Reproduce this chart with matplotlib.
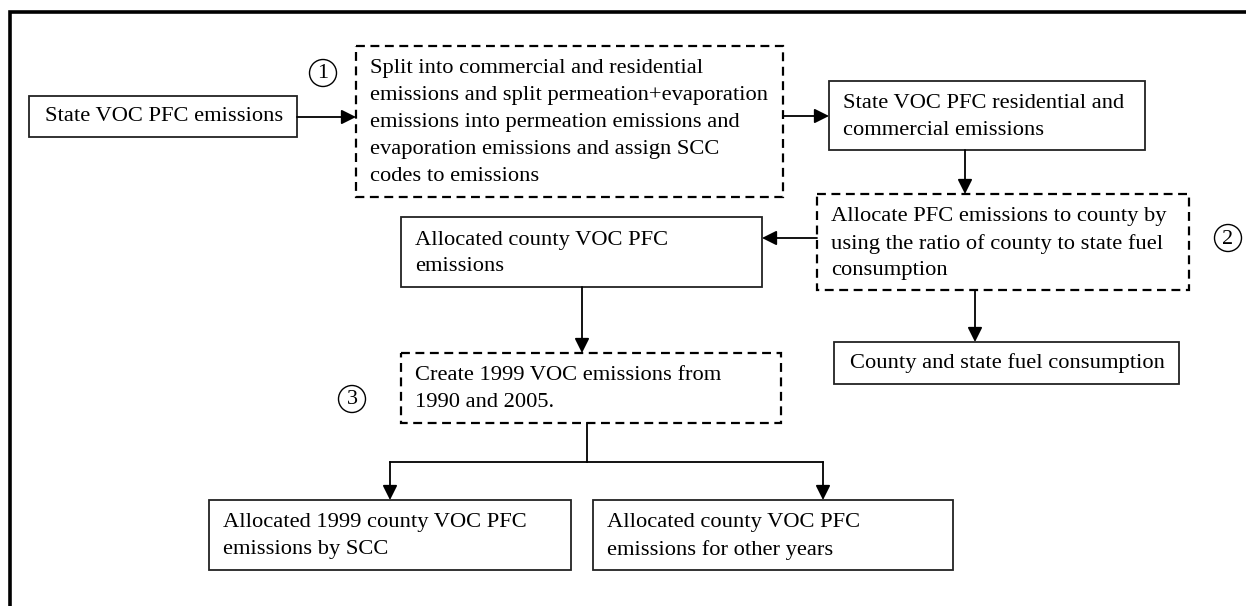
import matplotlib
matplotlib.use("Agg")
import matplotlib.pyplot as plt
from matplotlib.patches import Rectangle, Circle

plt.rcParams['font.family'] = ['Liberation Serif', 'DejaVu Serif']

# box texts (one list of lines per box)
txt_state = ["State VOC PFC emissions"]
txt_split = ["Split into commercial and residential",
             "emissions and split permeation+evaporation",
             "emissions into permeation emissions and",
             "evaporation emissions and assign SCC",
             "codes to emissions"]
txt_res = ["State VOC PFC residential and", "commercial emissions"]
txt_alloc_step = ["Allocate PFC emissions to county by",
                  "using the ratio of county to state fuel",
                  "consumption"]
txt_alloc = ["Allocated county VOC PFC", "emissions"]
txt_fuel = ["County and state fuel consumption"]
txt_create = ["Create 1999 VOC emissions from", "1990 and 2005."]
txt_1999 = ["Allocated 1999 county VOC PFC", "emissions by SCC"]
txt_other = ["Allocated county VOC PFC", "emissions for other years"]
step_labels = ["1", "2", "3"]

# layout in pixels (x0, y0, x1, y1), y downwards
boxes = [
    (txt_state, (29, 96, 297, 137), False),
    (txt_split, (356, 46, 783, 197), True),
    (txt_res, (829, 81, 1145, 150), False),
    (txt_alloc_step, (817, 194, 1189, 290), True),
    (txt_alloc, (401, 217, 762, 287), False),
    (txt_fuel, (834, 342, 1179, 384), False),
    (txt_create, (401, 353, 781, 423), True),
    (txt_1999, (209, 500, 571, 570), False),
    (txt_other, (593, 500, 953, 570), False),
]
circle_pos = [(323, 73), (1228, 238), (352, 399)]
arrows = [((297, 117), (356, 117)),
          ((783, 116), (829, 116)),
          ((965, 150), (965, 194)),
          ((817, 238), (762, 238)),
          ((975, 290), (975, 342)),
          ((582, 287), (582, 353)),
          ((390, 462), (390, 500)),
          ((823, 462), (823, 500))]
plain_lines = [((587, 423), (587, 462)),
               ((390, 462), (823, 462))]

W, H = 1246, 606
fig = plt.figure(figsize=(W / 100, H / 100), dpi=100)
ax = fig.add_axes([0, 0, 1, 1])
ax.set_xlim(0, W)
ax.set_ylim(H, 0)
ax.axis("off")

# outer frame (only top and left edges are inside the picture)
ax.plot([10, 10, W + 5], [H + 5, 12, 12], color="black", lw=2.6, solid_joinstyle="miter")

fs = 16.2
line_h = 26.8
for lines, (x0, y0, x1, y1), dashed in boxes:
    if dashed:
        r = Rectangle((x0, y0), x1 - x0, y1 - y0, fill=False, ec="black", lw=1.6,
                      linestyle=(0, (4, 2.5)))
    else:
        r = Rectangle((x0, y0), x1 - x0, y1 - y0, fill=False, ec="#222222", lw=1.3)
    ax.add_patch(r)
    if len(lines) == 1:
        ax.text(x0 + 16, (y0 + y1) / 2, lines[0], fontsize=fs, va="center", ha="left")
    else:
        for i, s in enumerate(lines):
            ax.text(x0 + 14, y0 + 23 + i * line_h, s, fontsize=fs, va="center", ha="left")

for (cx, cy), lab in zip(circle_pos, step_labels):
    ax.add_patch(Circle((cx, cy), 13.5, fill=False, ec="black", lw=1.0))
    ax.text(cx, cy + 1, lab, fontsize=16, ha="center", va="center")

for (a, b) in plain_lines:
    ax.plot([a[0], b[0]], [a[1], b[1]], color="black", lw=1.3)

for (a, b) in arrows:
    ax.annotate("", xy=b, xytext=a,
                arrowprops=dict(arrowstyle="-|>", color="black", lw=1.3,
                                mutation_scale=22, shrinkA=0, shrinkB=0))

fig.savefig("out.png", dpi=100)
